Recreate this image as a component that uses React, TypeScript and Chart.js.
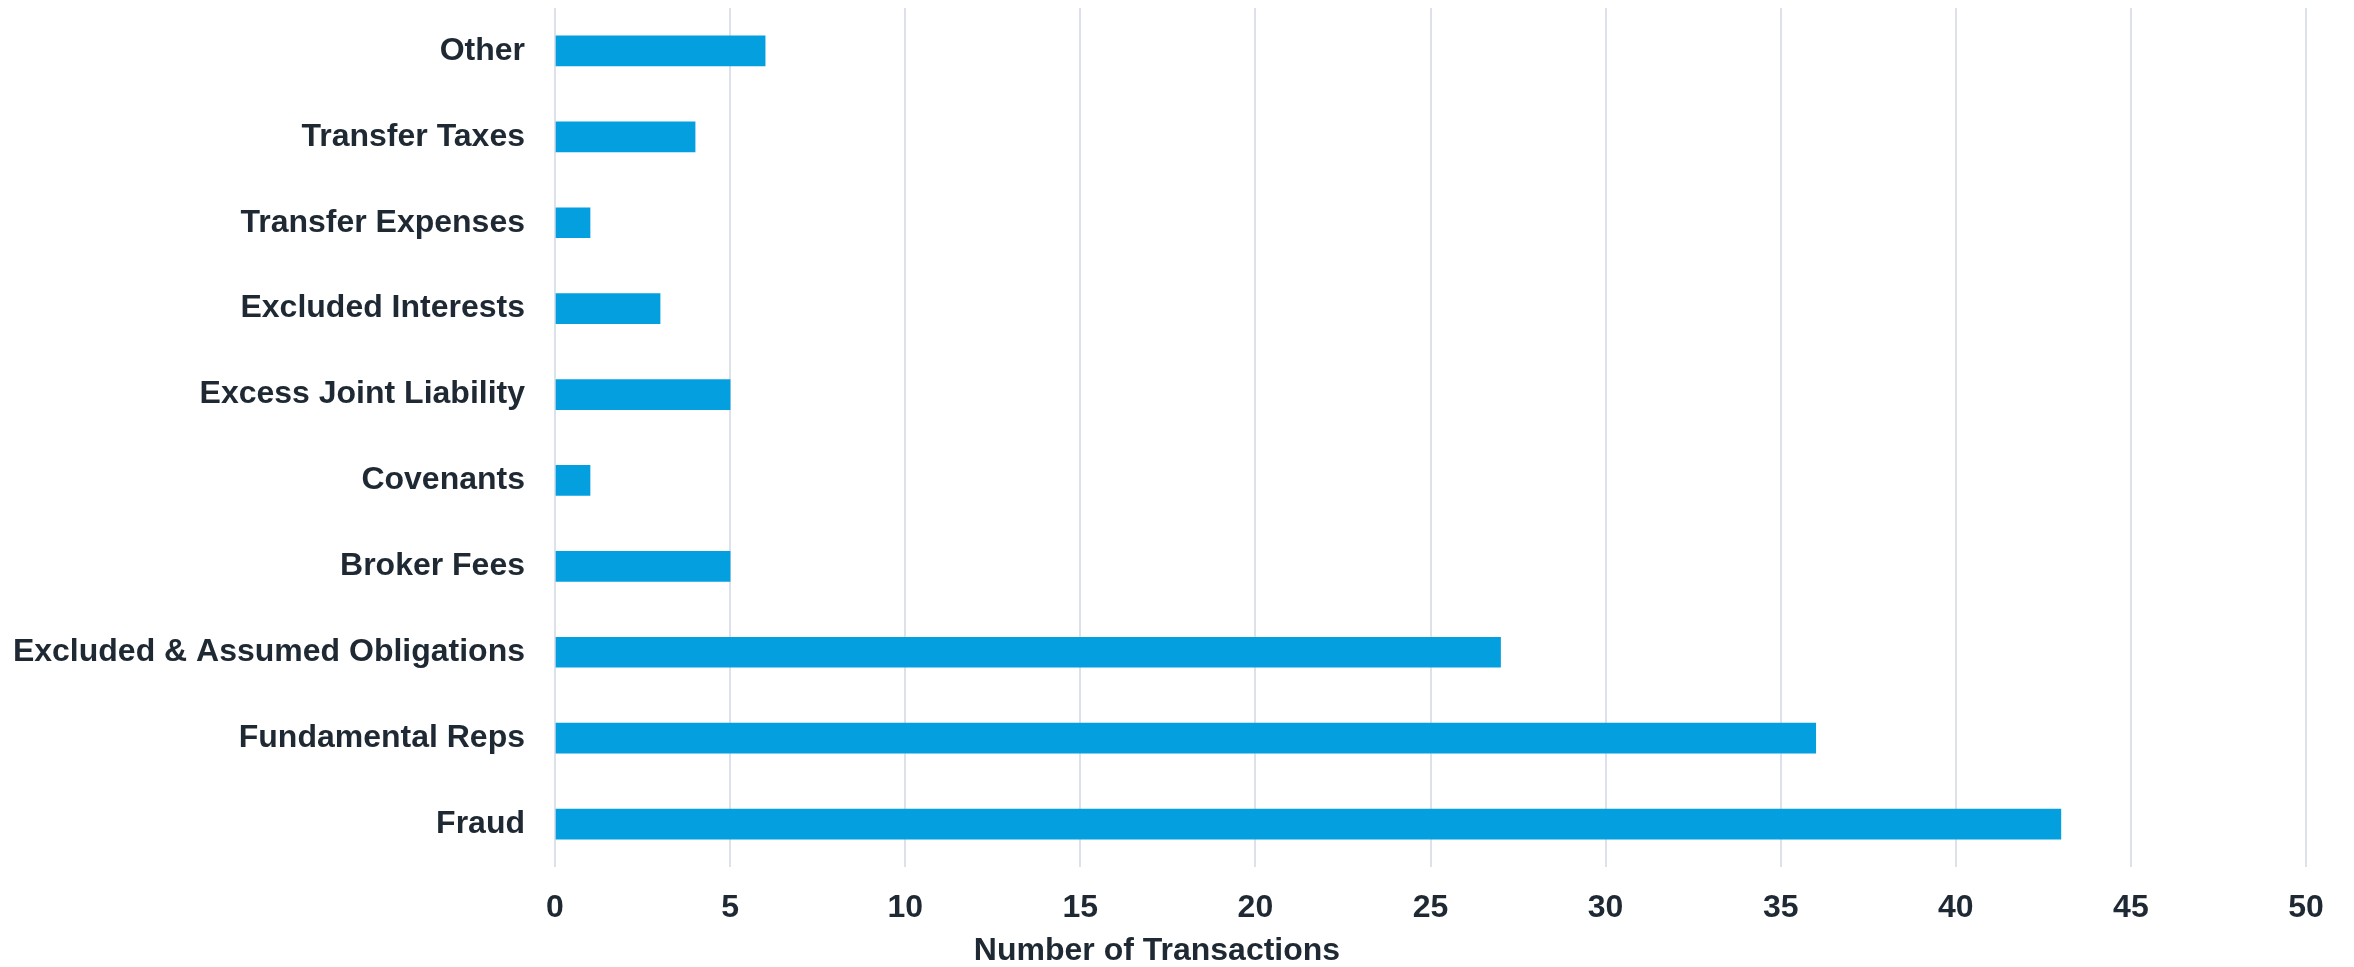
import React, { useEffect, useRef } from "react";
import { Chart, registerables } from "chart.js";

Chart.register(...registerables);

const categories: string[] = [
  "Other",
  "Transfer Taxes",
  "Transfer Expenses",
  "Excluded Interests",
  "Excess Joint Liability",
  "Covenants",
  "Broker Fees",
  "Excluded & Assumed Obligations",
  "Fundamental Reps",
  "Fraud",
];

const transactionCounts: number[] = [6, 4, 1, 3, 5, 1, 5, 27, 36, 43];

const xTickStep = 5;
const xMax = 50;
const axisTitle = "Number of Transactions";

const BAR_COLOR = "#049fdf";
const TEXT_COLOR = "#1f2933";
const GRID_COLOR = "#dde2ea";
const FONT_FAMILY = "'Liberation Sans', Arial, Helvetica, sans-serif";

export default function App() {
  const canvasRef = useRef<HTMLCanvasElement | null>(null);

  useEffect(() => {
    if (!canvasRef.current) return;
    const chart = new Chart(canvasRef.current, {
      type: "bar",
      data: {
        labels: categories,
        datasets: [
          {
            data: transactionCounts,
            backgroundColor: BAR_COLOR,
            borderWidth: 0,
            barThickness: 30,
          },
        ],
      },
      options: {
        indexAxis: "y",
        animation: false,
        responsive: true,
        maintainAspectRatio: false,
        layout: { padding: { left: 0, right: 40, top: 0, bottom: 0 } },
        plugins: {
          legend: { display: false },
          tooltip: { enabled: false },
          title: {
            display: true,
            text: axisTitle,
            position: "bottom",
            color: TEXT_COLOR,
            font: { family: FONT_FAMILY, size: 32, weight: "bold", lineHeight: 1 },
            padding: { top: 0, bottom: 0 },
          },
        },
        scales: {
          x: {
            min: 0,
            max: xMax,
            ticks: {
              stepSize: xTickStep,
              color: TEXT_COLOR,
              font: { family: FONT_FAMILY, size: 32, weight: "bold" },
              padding: 22,
            },
            grid: {
              color: GRID_COLOR,
              lineWidth: 2,
              drawTicks: false,
            },
            border: { display: false },
            afterFit: (scale: any) => {
              scale.height = 68;
            },
          },
          y: {
            ticks: {
              color: TEXT_COLOR,
              font: { family: FONT_FAMILY, size: 32, weight: "bold" },
              padding: 30,
            },
            grid: { display: false, drawTicks: false },
            border: { display: false },
            afterFit: (scale: any) => {
              scale.width = 547;
              scale.paddingTop = 0;
              scale.paddingBottom = 0;
            },
          },
        },
      },
    });
    return () => chart.destroy();
  }, []);

  return (
    <div style={{ position: "relative", width: "2338px", height: "959px" }}>
      <canvas ref={canvasRef} />
    </div>
  );
}
